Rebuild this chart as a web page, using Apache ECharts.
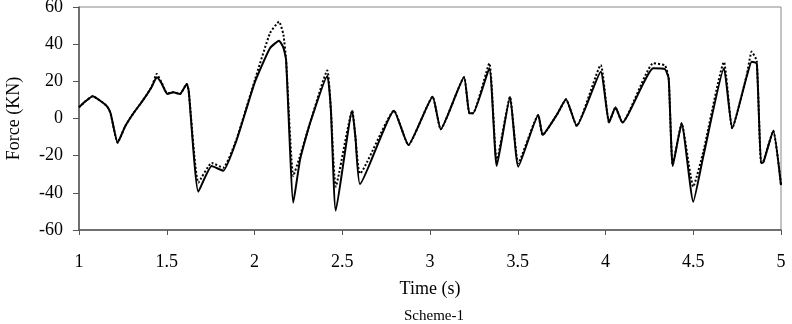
<!DOCTYPE html>
<html>
<head>
<meta charset="utf-8">
<script src="https://cdn.jsdelivr.net/npm/echarts@6/dist/echarts.min.js"></script>
<style>
  html, body { margin: 0; padding: 0; background: #fff; }
  #chart { width: 792px; height: 324px; }
</style>
</head>
<body>
<div id="chart"></div>
<script>
// time (s)
const times = [
  1.000, 1.040, 1.078, 1.129, 1.161, 1.180, 1.220, 1.262, 1.310, 1.366,
  1.414, 1.443, 1.470, 1.503, 1.537, 1.575, 1.614, 1.625, 1.680, 1.756,
  1.822, 1.898, 2.003, 2.088, 2.140, 2.165, 2.180, 2.221, 2.260, 2.316,
  2.415, 2.435, 2.463, 2.557, 2.575, 2.601, 2.795, 2.877, 3.015, 3.061,
  3.194, 3.224, 3.245, 3.338, 3.380, 3.456, 3.503, 3.617, 3.642, 3.722,
  3.775, 3.836, 3.973, 4.020, 4.057, 4.096, 4.272, 4.339, 4.360, 4.383,
  4.434, 4.500, 4.557, 4.675, 4.722, 4.804, 4.833, 4.862, 4.886, 4.900,
  4.956, 5.000
]
// solid curve
const forceSolid = [
  6, 9.5, 12, 9, 6.4, 2.8, -13, -4.4, 2.8, 10,
  17, 22.2, 19, 13.2, 14.1, 13.2, 18.6, 15, -39.4, -25.6,
  -28.1, -11.6, 19.8, 37.8, 41.9, 38, 31.5, -45.3, -22, -2.6,
  22.9, 5, -49.6, 4.2, -10, -35.3, 4.2, -14.3, 11.7, -5.8,
  22.2, 2.8, 2.8, 27, -25.6, 11.7, -25.9, 1.9, -8.9, 1.9,
  10.3, -4, 25.2, -2.2, 6, -2.2, 27, 26.5, 21.6, -25.6,
  -2.6, -44.8, -20.5, 27, -5.3, 22.5, 30.6, 29.7, -24.1, -23.5,
  -6.6, -35.8
]
// dotted curve
const forceDotted = [
  6, 9.5, 12, 9, 6.4, 2.8, -13, -4.4, 2.8, 10,
  17, 24, 19.5, 13.5, 14.1, 13.2, 18.6, 15, -34.5, -23.9,
  -26.5, -11, 21, 45.9, 52.1, 45, 31.5, -31, -20, -2.6,
  25.8, 5, -36.7, 4.2, -10, -29.6, 4.2, -14.3, 11.7, -5.8,
  22.2, 2.8, 2.8, 29.7, -23, 11.7, -24, 1.9, -8.9, 1.9,
  10.3, -4, 28.8, -2.2, 6, -2.2, 29.7, 28.5, 21.6, -25,
  -2.6, -36.7, -18, 30.4, -5.3, 23, 36, 31, -23.5, -23,
  -6.6, -35.8
]

const font = 'Liberation Serif'
const chart = echarts.init(document.getElementById('chart'))
chart.setOption({
  animation: false,
  title: {
    text: 'Scheme-1',
    left: 429,
    textAlign: 'center',
    top: 304,
    textStyle: { fontFamily: font, fontSize: 15, fontWeight: 'normal', color: '#000' }
  },
  grid: {
    left: 79, right: 11, top: 7, bottom: 94,
    outerBoundsMode: 'none',
    containLabel: false,
    show: true, borderColor: '#888', borderWidth: 1
  },
  xAxis: {
    type: 'value',
    min: 1, max: 5, interval: 0.5,
    name: 'Time (s)',
    nameLocation: 'middle',
    nameGap: 50,
    nameTextStyle: { fontFamily: font, fontSize: 18, color: '#000' },
    axisLine: { onZero: false, lineStyle: { color: '#555', width: 1.5 } },
    axisTick: { length: 5, lineStyle: { color: '#555' } },
    axisLabel: { margin: 23, fontFamily: font, fontSize: 18, color: '#000' },
    splitLine: { show: false }
  },
  yAxis: {
    type: 'value',
    min: -60, max: 60, interval: 20,
    name: 'Force (KN)',
    nameLocation: 'middle',
    nameGap: 56,
    nameTextStyle: { fontFamily: font, fontSize: 18, color: '#000' },
    axisLine: { show: true, onZero: false, lineStyle: { color: '#555', width: 1.5 } },
    axisTick: { show: true, length: 6, lineStyle: { color: '#555' } },
    axisLabel: { margin: 16, fontFamily: font, fontSize: 18, color: '#000' },
    splitLine: { show: false }
  },
  series: [
    {
      name: 'dotted',
      type: 'line',
      data: times.map((t, i) => [t, forceDotted[i]]),
      showSymbol: false,
      smooth: 0.15,
      lineStyle: { color: '#000', width: 2, type: [2, 2] }
    },
    {
      name: 'solid',
      type: 'line',
      data: times.map((t, i) => [t, forceSolid[i]]),
      showSymbol: false,
      smooth: 0.15,
      lineStyle: { color: '#000', width: 2 }
    }
  ]
})
</script>
</body>
</html>
